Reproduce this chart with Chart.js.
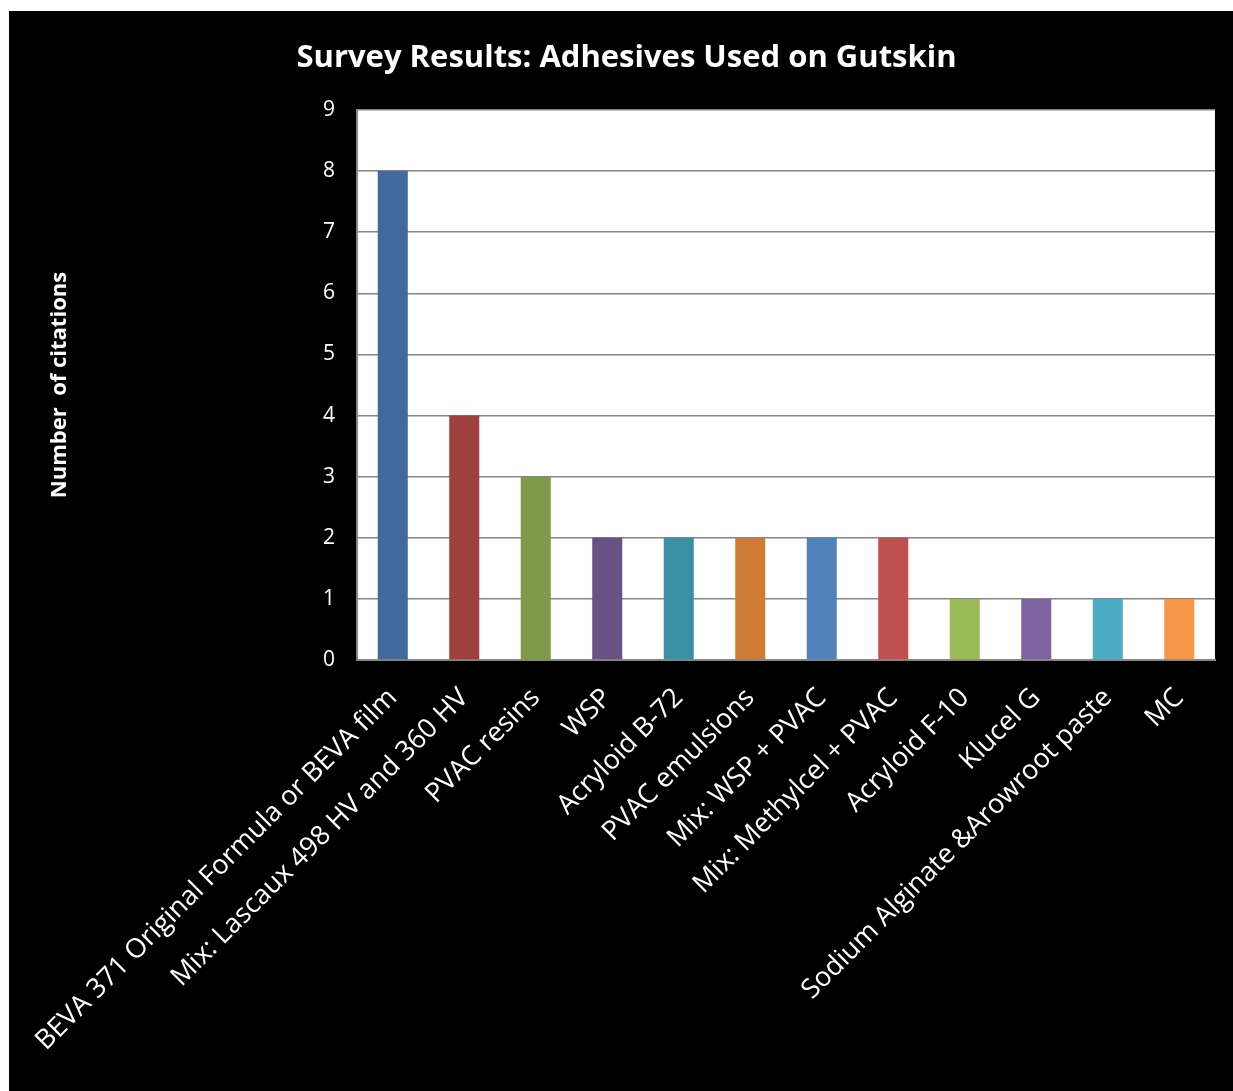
<!DOCTYPE html>
<html>
<head>
<meta charset="utf-8">
<script src="https://cdn.jsdelivr.net/npm/chart.js@4"></script>
<style>
  html, body { margin: 0; padding: 0; background: #ffffff; }
  #wrap { position: absolute; left: 9px; top: 11px; width: 1224px; height: 1080px; background: #000000; }
  canvas { display: block; }
</style>
</head>
<body>
<div id="wrap"><canvas id="c" width="1224" height="1080"></canvas></div>
<script>
const chartTitle = "Survey Results: Adhesives Used on Gutskin";
const yAxisTitle = "Number  of citations";
const categories = [
  "BEVA 371 Original Formula or BEVA film",
  "Mix: Lascaux 498 HV and 360 HV",
  "PVAC resins",
  "WSP",
  "Acryloid B-72",
  "PVAC emulsions",
  "Mix: WSP + PVAC",
  "Mix: Methylcel + PVAC",
  "Acryloid F-10",
  "Klucel G",
  "Sodium Alginate &Arowroot paste",
  "MC"
];
const citations = [8, 4, 3, 2, 2, 2, 2, 2, 1, 1, 1, 1];
const barColors = [
  "#41699C", "#9E413E", "#7F9A48", "#695185", "#3A8FA3", "#D07B35",
  "#4F81BD", "#C0504D", "#9BBB59", "#8064A2", "#4BACC6", "#F79646"
];
const yTicks = [0, 1, 2, 3, 4, 5, 6, 7, 8, 9];

const plotBg = {
  id: 'plotBg',
  beforeDraw(chart) {
    const a = chart.chartArea, ctx = chart.ctx;
    ctx.save();
    ctx.fillStyle = '#ffffff';
    ctx.fillRect(a.left, a.top, a.right - a.left, a.bottom - a.top);
    ctx.restore();
  }
};

new Chart(document.getElementById('c'), {
  type: 'bar',
  data: {
    labels: categories,
    datasets: [{
      data: citations,
      backgroundColor: barColors,
      borderWidth: 0,
      categoryPercentage: 1,
      barPercentage: 0.42
    }]
  },
  options: {
    responsive: false,
    animation: false,
    layout: { padding: { left: 29, right: 18, top: 0, bottom: 0 } },
    plugins: {
      legend: { display: false },
      tooltip: { enabled: false },
      title: {
        display: true,
        text: chartTitle,
        color: '#ffffff',
        font: { family: 'Open Sans', size: 31, weight: 'bold', lineHeight: 1.2 },
        padding: { top: 29, bottom: 32.8 }
      }
    },
    scales: {
      x: {
        grid: { display: false },
        border: { display: true, color: '#868686', width: 2 },
        ticks: {
          color: '#ffffff',
          autoSkip: false,
          maxRotation: 45,
          minRotation: 45,
          padding: 14,
          font: { family: 'Open Sans', size: 27 }
        },
        afterFit(scale) { scale.height = 431; }
      },
      y: {
        min: 0,
        max: 9,
        afterBuildTicks(scale) { scale.ticks = yTicks.map(v => ({ value: v })); },
        grid: { color: '#868686', lineWidth: 1.5, drawTicks: false },
        border: { display: true, color: '#868686', width: 2 },
        ticks: {
          color: '#ffffff',
          padding: 22,
          font: { family: 'Open Sans', size: 21 }
        },
        title: {
          display: true,
          text: yAxisTitle,
          color: '#ffffff',
          font: { family: 'Open Sans', size: 22, weight: 'bold', lineHeight: 1.2 },
          padding: { top: 9, bottom: 0 }
        },
        afterFit(scale) { scale.width = 319; }
      }
    }
  },
  plugins: [plotBg]
});
</script>
</body>
</html>
